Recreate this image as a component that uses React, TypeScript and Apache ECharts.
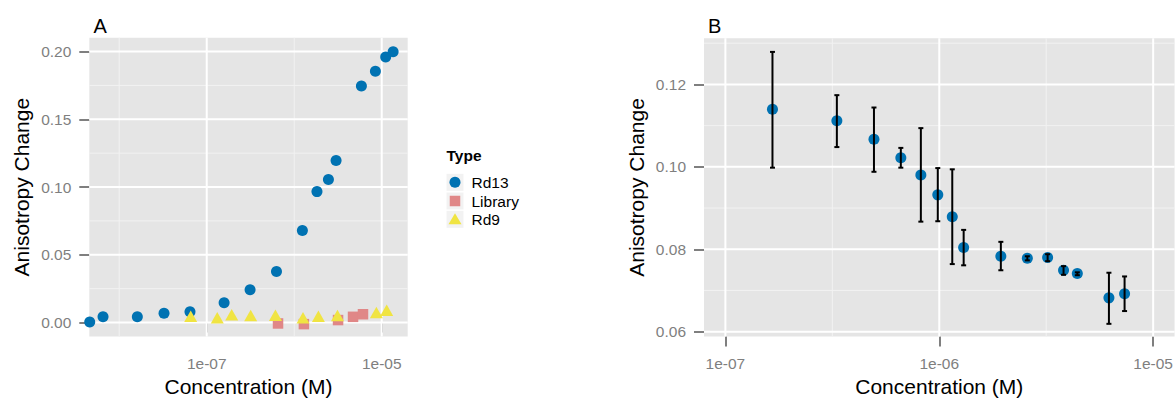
import React, { useEffect, useRef } from "react";
import * as echarts from "echarts";

// ---------- Panel A data (concentration in M, anisotropy change) ----------
const rd13Conc = [4.6e-9, 6.53e-9, 1.61e-8, 3.25e-8, 6.44e-8, 1.58e-7, 3.13e-7, 6.27e-7, 1.24e-6, 1.82e-6, 2.46e-6, 3.01e-6, 5.86e-6, 8.47e-6, 1.11e-5, 1.35e-5];
const rd13Val = [0.0003, 0.0042, 0.0042, 0.0069, 0.008, 0.0146, 0.0241, 0.0377, 0.0679, 0.0966, 0.1056, 0.1195, 0.1745, 0.1854, 0.1959, 0.1998];
const libConc = [6.53e-7, 1.29e-6, 3.17e-6, 4.7e-6, 6.11e-6];
const libVal = [-0.0007, -0.0012, 0.0018, 0.0042, 0.0061];
const rd9Conc = [6.56e-8, 1.32e-7, 1.93e-7, 3.18e-7, 6.1e-7, 1.26e-6, 1.89e-6, 3.12e-6, 8.69e-6, 1.14e-5];
const rd9Val = [0.0047, 0.0036, 0.0058, 0.0051, 0.0054, 0.0036, 0.0047, 0.0051, 0.0073, 0.0091];

// ---------- Panel B data ----------
const bConc = [1.66e-7, 3.32e-7, 4.95e-7, 6.61e-7, 8.2e-7, 9.84e-7, 1.15e-6, 1.3e-6, 1.94e-6, 2.58e-6, 3.21e-6, 3.81e-6, 4.42e-6, 6.21e-6, 7.35e-6];
const bMean = [0.114, 0.1112, 0.1067, 0.1022, 0.098, 0.0932, 0.0879, 0.0804, 0.0783, 0.0778, 0.078, 0.0749, 0.0741, 0.0682, 0.0692];
const bLow = [0.0998, 0.1048, 0.0988, 0.0998, 0.0867, 0.0868, 0.0764, 0.0761, 0.0749, 0.0773, 0.0771, 0.0738, 0.0737, 0.0619, 0.065];
const bHigh = [0.1279, 0.1174, 0.1144, 0.1046, 0.1094, 0.0997, 0.0994, 0.0847, 0.0818, 0.0783, 0.0788, 0.0759, 0.0744, 0.0743, 0.0734];

// ---------- Ticks (log10 of concentration for x) ----------
const aXMajor = [-7, -5];
const aXMinor = [-8, -6];
const aYMajor = [0, 0.05, 0.1, 0.15, 0.2];
const aYMinor = [0.025, 0.075, 0.125, 0.175];
const bXMajor = [-7, -6, -5];
const bXMinor = [-6.5, -5.5];
const bYMajor = [0.06, 0.08, 0.1, 0.12];
const bYMinor = [0.07, 0.09, 0.11, 0.13];

const legendNames = ["Rd13", "Library", "Rd9"];

const BLUE = "#0072b2";
const PINK = "#e08787";
const YELLOW = "#f0e442";
const FONT = "'Liberation Sans', Arial, sans-serif";
const TICK_GREY = "#7f7f7f";

const fmtExp = (v: number) => {
  const e = Math.round(v);
  return "1e" + (e < 0 ? "-" : "+") + String(Math.abs(e)).padStart(2, "0");
};

function gridLineSeries(idx: number, xMaj: number[], xMin: number[], yMaj: number[], yMin: number[], xMid: number, yMid: number) {
  const data: number[][] = [];
  xMin.forEach((v) => data.push([v, yMid, 0, 1]));
  yMin.forEach((v) => data.push([xMid, v, 0, 0]));
  xMaj.forEach((v) => data.push([v, yMid, 1, 1]));
  yMaj.forEach((v) => data.push([xMid, v, 1, 0]));
  return {
    type: "custom",
    xAxisIndex: idx,
    yAxisIndex: idx,
    z: 1,
    silent: true,
    encode: { x: 0, y: 1 },
    data,
    renderItem: (params: any, api: any) => {
      const cs = params.coordSys;
      const p = api.coord([api.value(0), api.value(1)]);
      const major = api.value(2) === 1;
      const vertical = api.value(3) === 1;
      const shape = vertical
        ? { x1: p[0], y1: cs.y, x2: p[0], y2: cs.y + cs.height }
        : { x1: cs.x, y1: p[1], x2: cs.x + cs.width, y2: p[1] };
      return {
        type: "line",
        shape,
        style: { stroke: major ? "#ffffff" : "#f2f2f2", lineWidth: major ? 2 : 1 },
      };
    },
  };
}

function makeXAxis(idx: number, min: number, max: number, ticks: number[]) {
  return {
    type: "value",
    gridIndex: idx,
    min,
    max,
    name: "Concentration (M)",
    nameLocation: "middle",
    nameGap: 38,
    nameTextStyle: { fontFamily: FONT, fontSize: 21, color: "#000" },
    axisLine: { show: false },
    axisTick: { show: true, customValues: ticks, length: 10, lineStyle: { color: TICK_GREY, width: 2 } },
    axisLabel: { customValues: ticks, formatter: fmtExp, margin: 18.5, fontFamily: FONT, fontSize: 15.5, color: TICK_GREY },
    splitLine: { show: false },
  };
}

function makeYAxis(idx: number, min: number, max: number, ticks: number[]) {
  return {
    type: "value",
    gridIndex: idx,
    min,
    max,
    name: "Anisotropy Change",
    nameLocation: "middle",
    nameGap: 57,
    nameTextStyle: { fontFamily: FONT, fontSize: 21, color: "#000" },
    axisLine: { show: false },
    axisTick: { show: true, customValues: ticks, length: 10, lineStyle: { color: TICK_GREY, width: 2 } },
    axisLabel: { customValues: ticks, formatter: (v: number) => v.toFixed(2), margin: 18, fontFamily: FONT, fontSize: 15.5, color: TICK_GREY },
    splitLine: { show: false },
  };
}

export default function App() {
  const ref = useRef<HTMLDivElement>(null);
  useEffect(() => {
    if (!ref.current) return;
    const chart = echarts.init(ref.current, null, { renderer: "svg" });
    const lg = Math.log10;
    const legendX = 455;
    const legendYs = [182.3, 201, 219.3];
    const option: any = {
      animation: false,
      backgroundColor: "#ffffff",
      title: [
        { text: "A", left: 88.5, top: 11, textStyle: { fontFamily: FONT, fontSize: 20, fontWeight: "normal", color: "#000" } },
        { text: "B", left: 703, top: 11, textStyle: { fontFamily: FONT, fontSize: 20, fontWeight: "normal", color: "#000" } },
      ],
      grid: [
        { left: 89.3, top: 37.7, width: 318.4, height: 302.3, show: true, backgroundColor: "#e5e5e5", borderWidth: 0 },
        { left: 704, top: 38.3, width: 471, height: 301.7, show: true, backgroundColor: "#e5e5e5", borderWidth: 0 },
      ],
      xAxis: [makeXAxis(0, -8.342, -4.703, aXMajor), makeXAxis(1, -7.1, -4.9, bXMajor)],
      yAxis: [makeYAxis(0, -0.0104, 0.2102, aYMajor), makeYAxis(1, 0.0588, 0.1312, bYMajor)],
      graphic: [
        { type: "text", left: 446.5, top: 147, style: { text: "Type", fontFamily: FONT, fontSize: 15.5, fontWeight: "bold", fill: "#000" } },
        ...legendYs.map((y) => ({ type: "rect", shape: { x: legendX - 8.5, y: y - 8.5, width: 17, height: 17 }, style: { fill: "#f2f2f2" } })),
        { type: "circle", shape: { cx: legendX, cy: legendYs[0], r: 5.5 }, style: { fill: BLUE } },
        { type: "rect", shape: { x: legendX - 5.25, y: legendYs[1] - 5.25, width: 10.5, height: 10.5 }, style: { fill: PINK } },
        { type: "polygon", shape: { points: [[legendX - 6.5, legendYs[2] + 5], [legendX + 6.5, legendYs[2] + 5], [legendX, legendYs[2] - 6]] }, style: { fill: YELLOW } },
        ...legendNames.map((n, i) => ({ type: "text", x: 471.5, y: legendYs[i], style: { text: n, fontFamily: FONT, fontSize: 15.5, fill: "#000", verticalAlign: "middle" } })),
      ],
      series: [
        gridLineSeries(0, aXMajor, aXMinor, aYMajor, aYMinor, -6.5, 0.1),
        gridLineSeries(1, bXMajor, bXMinor, bYMajor, bYMinor, -6, 0.09),
        {
          name: legendNames[0], type: "scatter", xAxisIndex: 0, yAxisIndex: 0, z: 2,
          symbol: "circle", symbolSize: 11, itemStyle: { color: BLUE, opacity: 1 },
          data: rd13Conc.map((c, i) => [lg(c), rd13Val[i]]),
        },
        {
          name: legendNames[1], type: "scatter", xAxisIndex: 0, yAxisIndex: 0, z: 3,
          symbol: "rect", symbolSize: 10.5, itemStyle: { color: PINK, opacity: 1 },
          data: libConc.map((c, i) => [lg(c), libVal[i]]),
        },
        {
          name: legendNames[2], type: "scatter", xAxisIndex: 0, yAxisIndex: 0, z: 4,
          symbol: "triangle", symbolSize: [13, 11.5], itemStyle: { color: YELLOW, opacity: 1 },
          data: rd9Conc.map((c, i) => [lg(c), rd9Val[i]]),
        },
        {
          name: "Rd13 B", type: "scatter", xAxisIndex: 1, yAxisIndex: 1, z: 2,
          symbol: "circle", symbolSize: 11, itemStyle: { color: BLUE, opacity: 1 },
          data: bConc.map((c, i) => [lg(c), bMean[i]]),
        },
        {
          name: "Error", type: "custom", xAxisIndex: 1, yAxisIndex: 1, z: 5,
          encode: { x: 0, y: [1, 2] },
          data: bConc.map((c, i) => [lg(c), bLow[i], bHigh[i]]),
          renderItem: (params: any, api: any) => {
            const x = api.value(0);
            const pLo = api.coord([x, api.value(1)]);
            const pHi = api.coord([x, api.value(2)]);
            const hw = 2.5;
            const st = { stroke: "#000", lineWidth: 2 };
            return {
              type: "group",
              children: [
                { type: "line", shape: { x1: pLo[0], y1: pLo[1], x2: pHi[0], y2: pHi[1] }, style: st },
                { type: "line", shape: { x1: pLo[0] - hw, y1: pLo[1], x2: pLo[0] + hw, y2: pLo[1] }, style: st },
                { type: "line", shape: { x1: pHi[0] - hw, y1: pHi[1], x2: pHi[0] + hw, y2: pHi[1] }, style: st },
              ],
            };
          },
        },
      ],
    };
    chart.setOption(option);
    return () => chart.dispose();
  }, []);
  return <div ref={ref} style={{ position: "absolute", left: 0, top: 0, width: 1176, height: 402 }} />;
}
